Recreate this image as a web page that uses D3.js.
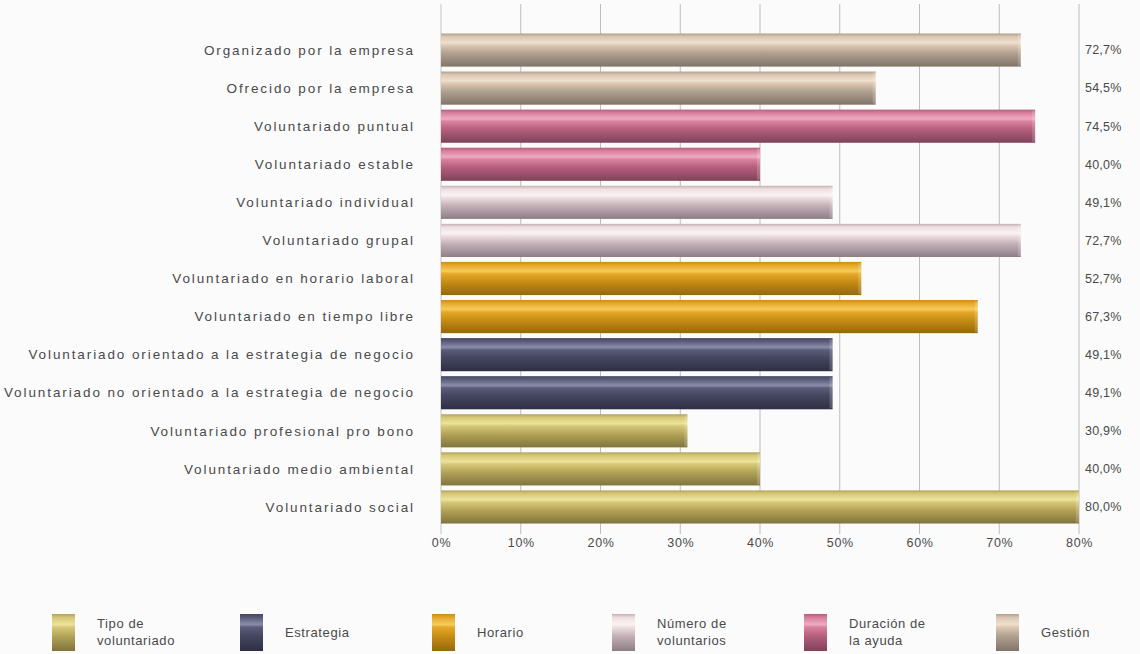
<!DOCTYPE html>
<html><head><meta charset="utf-8">
<script src="https://cdn.jsdelivr.net/npm/d3@7/dist/d3.min.js"></script>
<style>
html,body{margin:0;padding:0;background:#fbfbfc;}
svg{display:block;}
text{font-family:"Liberation Sans Narrow","Liberation Sans",Arial,sans-serif;fill:#4a4a4a;}
</style></head>
<body>
<svg id="chart" width="1140" height="654"></svg>
<script>
const categories = [
  "Organizado por la empresa",
  "Ofrecido por la empresa",
  "Voluntariado puntual",
  "Voluntariado estable",
  "Voluntariado individual",
  "Voluntariado grupal",
  "Voluntariado en horario laboral",
  "Voluntariado en tiempo libre",
  "Voluntariado orientado a la estrategia de negocio",
  "Voluntariado no orientado a la estrategia de negocio",
  "Voluntariado profesional pro bono",
  "Voluntariado medio ambiental",
  "Voluntariado social"
];
const values = [72.7, 54.5, 74.5, 40.0, 49.1, 72.7, 52.7, 67.3, 49.1, 49.1, 30.9, 40.0, 80.0];
const groups = ["Gestión","Gestión","Duración","Duración","Número","Número","Horario","Horario","Estrategia","Estrategia","Tipo","Tipo","Tipo"];
const ticks = [0,10,20,30,40,50,60,70,80];
const legendKeys = ["Tipo","Estrategia","Horario","Número","Duración","Gestión"];
const legendLabels = [["Tipo de","voluntariado"],["Estrategia"],["Horario"],["Número de","voluntarios"],["Duración de","la ayuda"],["Gestión"]];

const palette = {
  "Tipo":      {top:"#d6c878", hi:"#ece39a", mid:"#b3a358", bot:"#7f743c"},
  "Estrategia":{top:"#5a5c7a", hi:"#8a8ca8", mid:"#444660", bot:"#2e2f44"},
  "Horario":   {top:"#e6a82a", hi:"#f5cc5c", mid:"#c78d14", bot:"#94680c"},
  "Número":    {top:"#eedfe2", hi:"#faf2f4", mid:"#c4b0b6", bot:"#8c7e86"},
  "Duración":  {top:"#d9809e", hi:"#eeaac0", mid:"#b45e7c", bot:"#7f4258"},
  "Gestión":   {top:"#dcc7b2", hi:"#eee0cf", mid:"#b0a090", bot:"#807469"}
};

const svg = d3.select("#chart");
const defs = svg.append("defs");
Object.entries(palette).forEach(([k,c],i)=>{
  const g = defs.append("linearGradient").attr("id","g"+i).attr("x1",0).attr("x2",0).attr("y1",0).attr("y2",1);
  g.append("stop").attr("offset","0%").attr("stop-color",c.mid);
  g.append("stop").attr("offset","10%").attr("stop-color",c.top);
  g.append("stop").attr("offset","28%").attr("stop-color",c.hi);
  g.append("stop").attr("offset","36%").attr("stop-color",c.top);
  g.append("stop").attr("offset","60%").attr("stop-color",c.mid);
  g.append("stop").attr("offset","100%").attr("stop-color",c.bot);
  c.id = "g"+i;
});

const x = d3.scaleLinear().domain([0,80]).range([441,1079]);
const y = d3.scaleBand().domain(categories).range([31,526]).paddingInner(0.13).paddingOuter(0.065);

// gridlines
svg.append("g").selectAll("line").data(ticks).join("line")
  .attr("x1",d=>x(d)).attr("x2",d=>x(d)).attr("y1",4).attr("y2",534)
  .attr("stroke",d=>d===0?"#c4c4c4":"#bdbdbd").attr("stroke-width",1);

// x axis labels
const xAxis = d3.axisBottom(x).tickValues(ticks).tickFormat(d=>d+"%").tickSize(0).tickPadding(0);
const ax = svg.append("g").attr("transform","translate(0,538)").call(xAxis);
ax.select(".domain").remove();
ax.selectAll("text").attr("font-size",12.5).attr("fill","#4a4a4a").attr("letter-spacing","0.6px")
  .style("font-family",'"Liberation Sans Narrow","Liberation Sans",Arial,sans-serif');

// bars
const data = categories.map((c,i)=>({c, v:values[i], g:groups[i]}));
const bars = svg.append("g");
bars.selectAll("rect").data(data).join("rect")
  .attr("x",x(0)).attr("y",d=>y(d.c)).attr("width",d=>x(d.v)-x(0)).attr("height",y.bandwidth())
  .attr("fill",d=>"url(#"+palette[d.g].id+")");
// end caps
bars.selectAll("rect.cap").data(data).join("rect").attr("class","cap")
  .attr("x",d=>x(d.v)-3).attr("y",d=>y(d.c)+1).attr("width",3).attr("height",y.bandwidth()-2)
  .attr("fill","#ffffff").attr("opacity",0.18);

// category labels
svg.append("g").selectAll("text").data(categories).join("text")
  .attr("x",415).attr("y",d=>y(d)+y.bandwidth()/2).attr("dy","0.35em")
  .attr("text-anchor","end").attr("font-size",13.5).attr("letter-spacing","1.9px")
  .text(d=>d);

// value labels
svg.append("g").selectAll("text").data(data).join("text")
  .attr("x",1085).attr("y",d=>y(d.c)+y.bandwidth()/2).attr("dy","0.35em")
  .attr("font-size",12.5).attr("letter-spacing","0.2px")
  .text(d=>d.v.toFixed(1).replace(".",",")+"%");

// legend
const legX = [52,240,432,612,804,996];
const leg = svg.append("g");
legendKeys.forEach((k,i)=>{
  const gx = legX[i];
  leg.append("rect").attr("x",gx).attr("y",614).attr("width",23).attr("height",37)
    .attr("fill","url(#"+palette[k].id+")");
  const lines = legendLabels[i];
  const t = leg.append("text").attr("x",gx+45).attr("font-size",13).attr("letter-spacing","0.6px");
  if(lines.length===1){
    t.append("tspan").attr("x",gx+45).attr("y",637).text(lines[0]);
  } else {
    t.append("tspan").attr("x",gx+45).attr("y",628).text(lines[0]);
    t.append("tspan").attr("x",gx+45).attr("y",645).text(lines[1]);
  }
});
</script>
</body></html>
